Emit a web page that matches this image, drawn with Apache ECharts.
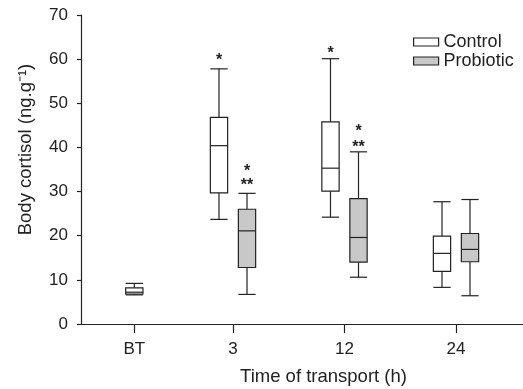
<!DOCTYPE html>
<html>
<head>
<meta charset="utf-8">
<script src="https://cdn.jsdelivr.net/npm/echarts@6/dist/echarts.min.js"></script>
<style>
  html, body { margin: 0; padding: 0; background: #fff; }
  #chart { width: 523px; height: 389px; }
</style>
</head>
<body>
<div id="chart"></div>
<script>
// time points and where they sit on the (uneven) x axis
var groups = ['BT', '3', '12', '24'];
var groupX = [1.115, 2, 3, 4];

// [min, q1, median, q3, max]
var controlStats = [
    [6.6, 6.8, 7.2, 8.2, 9.2],
    [23.7, 29.7, 40.4, 46.8, 57.8],
    [24.2, 30.1, 35.3, 45.8, 60.1],
    [8.3, 11.9, 16.0, 19.9, 27.7]
];
var probioticStats = [
    null,
    [6.7, 12.8, 21.1, 26.0, 29.6],
    [10.6, 14.0, 19.6, 28.4, 39.0],
    [6.4, 14.1, 16.9, 20.5, 28.2]
];

// significance marks: group index, series (0 control, 1 probiotic), level, text
var starGroup = [1, 1, 1, 2, 2, 2];
var starSeries = [0, 1, 1, 0, 1, 1];
var starValue = [60.6, 35.4, 32.2, 62.2, 44.5, 40.9];
var starText = ['*', '*', '**', '*', '*', '**'];

var BOX_W = 0.155;
var OFFSET = 0.1256;
var INK = '#222';
var FONT = 'Liberation Sans, Arial, sans-serif';

function boxX(g, s) {
    if (!probioticStats[g]) return groupX[g];
    return groupX[g] + (s == 0 ? -OFFSET : OFFSET);
}

function buildData(stats, s) {
    let out = [];
    for (let i = 0; i < stats.length; i++) {
        if (stats[i]) out.push([boxX(i, s)].concat(stats[i]));
    }
    return out;
}

function renderBox(params, api) {
    let x = api.value(0);
    let lo = api.coord([x, api.value(1)]);
    let q1 = api.coord([x, api.value(2)]);
    let md = api.coord([x, api.value(3)]);
    let q3 = api.coord([x, api.value(4)]);
    let hi = api.coord([x, api.value(5)]);
    let w = api.size([BOX_W, 0])[0];
    let cx = lo[0];
    let fill = params.seriesIndex == 0 ? '#fff' : '#c8c8c8';
    let ls = { stroke: INK, lineWidth: 1.2 };
    return {
        type: 'group',
        children: [
            { type: 'line', shape: { x1: cx, y1: hi[1], x2: cx, y2: q3[1] }, style: ls },
            { type: 'line', shape: { x1: cx, y1: q1[1], x2: cx, y2: lo[1] }, style: ls },
            { type: 'line', shape: { x1: cx - w / 2, y1: hi[1], x2: cx + w / 2, y2: hi[1] }, style: ls },
            { type: 'line', shape: { x1: cx - w / 2, y1: lo[1], x2: cx + w / 2, y2: lo[1] }, style: ls },
            { type: 'rect', shape: { x: cx - w / 2, y: q3[1], width: w, height: q1[1] - q3[1] },
              style: { fill: fill, stroke: INK, lineWidth: 1.2 } },
            { type: 'line', shape: { x1: cx - w / 2, y1: md[1], x2: cx + w / 2, y2: md[1] }, style: ls }
        ]
    };
}

let starData = [];
for (let i = 0; i < starGroup.length; i++) {
    starData.push([boxX(starGroup[i], starSeries[i]), starValue[i], starText[i]]);
}

function renderStar(params, api) {
    let p = api.coord([api.value(0), api.value(1)]);
    return {
        type: 'text',
        x: p[0],
        y: p[1] + 4,
        style: {
            text: starText[params.dataIndex],
            fill: INK,
            font: 'bold 16px ' + FONT,
            align: 'center',
            verticalAlign: 'middle'
        }
    };
}

let chart = echarts.init(document.getElementById('chart'));
let option = {
    animation: false,
    backgroundColor: '#fff',
    textStyle: { fontFamily: FONT, color: INK },
    grid: { left: 81, right: 0, top: 15, bottom: 65, containLabel: false, outerBoundsMode: 'none' },
    legend: {
        orient: 'vertical',
        left: 408,
        top: 28,
        icon: 'rect',
        itemWidth: 25,
        itemHeight: 8,
        itemGap: 1,
        textStyle: { fontSize: 18, color: INK, fontFamily: FONT },
        data: [
            { name: 'Control', itemStyle: { color: '#fff', borderColor: INK, borderWidth: 1.2 } },
            { name: 'Probiotic', itemStyle: { color: '#c8c8c8', borderColor: INK, borderWidth: 1.2 } }
        ]
    },
    xAxis: {
        type: 'value',
        min: 0.6368,
        max: 4.6009,
        name: 'Time of transport (h)',
        nameLocation: 'middle',
        nameGap: 43,
        nameTextStyle: { fontSize: 18.5, color: INK, fontFamily: FONT, padding: [0, 0, 0, 43] },
        splitLine: { show: false },
        axisLine: { show: true, lineStyle: { color: INK, width: 1.2 } },
        axisTick: { show: true, length: 9, customValues: groupX, lineStyle: { color: INK, width: 1.2 } },
        axisLabel: {
            customValues: groupX,
            margin: 17,
            fontSize: 17,
            color: INK,
            formatter: function(v) {
                let i = groupX.indexOf(v);
                return i >= 0 ? groups[i] : '';
            }
        }
    },
    yAxis: {
        type: 'value',
        min: 0,
        max: 70,
        interval: 10,
        name: 'Body cortisol (ng.g⁻¹)',
        nameLocation: 'middle',
        nameGap: 46,
        nameTextStyle: { fontSize: 18.5, color: INK, fontFamily: FONT, padding: [0, 0, 0, 40] },
        splitLine: { show: false },
        axisLine: { show: true, lineStyle: { color: INK, width: 1.2 } },
        axisTick: { show: true, length: 4, lineStyle: { color: INK, width: 1.2 } },
        axisLabel: { margin: 13, fontSize: 17, color: INK }
    },
    series: [
        {
            name: 'Control',
            type: 'custom',
            renderItem: renderBox,
            encode: { x: 0, y: [1, 2, 3, 4, 5] },
            data: buildData(controlStats, 0)
        },
        {
            name: 'Probiotic',
            type: 'custom',
            renderItem: renderBox,
            encode: { x: 0, y: [1, 2, 3, 4, 5] },
            data: buildData(probioticStats, 1)
        },
        {
            name: 'stars',
            type: 'custom',
            renderItem: renderStar,
            encode: { x: 0, y: 1 },
            data: starData,
            z: 5
        }
    ]
};
chart.setOption(option);
</script>
</body>
</html>
